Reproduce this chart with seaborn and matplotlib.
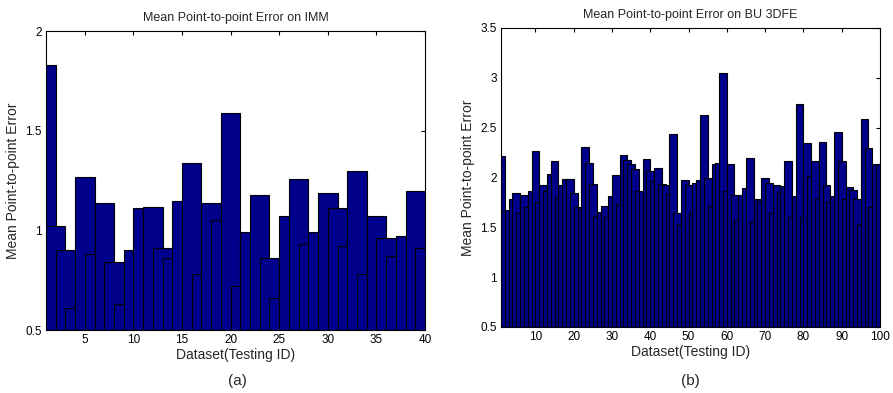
import numpy as np
import pandas as pd
import seaborn as sns
import matplotlib.pyplot as plt
from matplotlib.ticker import FuncFormatter

# Mean point-to-point error per testing ID
imm_ids = list(range(1, 41))
imm_err = [1.83, 1.02, 0.90, 0.61, 1.27, 0.88, 1.14, 0.84, 0.63, 0.90,
           1.11, 1.12, 0.91, 0.86, 1.15, 1.34, 0.78, 1.14, 1.05, 1.59,
           0.72, 0.99, 1.18, 0.86, 0.66, 1.07, 1.26, 0.93, 0.99, 1.19,
           1.11, 0.92, 1.30, 0.78, 1.07, 0.96, 0.87, 0.97, 1.20, 0.91]

bu_ids = list(range(1, 101))
bu_err = [2.22, 1.66, 1.67, 1.78, 1.84, 1.64, 1.82, 1.70, 1.86, 2.27,
          1.75, 1.92, 1.86, 2.03, 2.16, 1.80, 1.92, 1.98, 1.98, 1.84,
          1.70, 1.69, 2.31, 2.14, 1.93, 1.61, 1.65, 1.71, 1.60, 1.81,
          2.02, 1.73, 2.23, 2.17, 2.13, 2.08, 1.86, 1.86, 2.18, 2.06,
          1.96, 2.09, 1.93, 1.92, 1.83, 2.44, 1.64, 1.53, 1.97, 1.92,
          1.64, 1.94, 1.97, 2.63, 1.99, 1.71, 2.13, 2.14, 3.05, 1.86,
          2.13, 1.82, 1.57, 1.82, 1.89, 2.20, 1.55, 1.78, 1.76, 1.99,
          1.94, 1.64, 1.92, 1.85, 1.91, 2.16, 1.60, 1.81, 2.74, 1.60,
          2.35, 2.01, 2.16, 1.79, 2.36, 1.92, 1.75, 1.81, 2.46, 2.16,
          1.78, 1.90, 1.87, 1.78, 1.53, 2.59, 2.30, 1.70, 2.13, 2.13]

imm_ticks = [5, 10, 15, 20, 25, 30, 35, 40]
bu_ticks = [10, 20, 30, 40, 50, 60, 70, 80, 90, 100]
imm_yticks = [0.5, 1, 1.5, 2]
bu_yticks = [0.5, 1, 1.5, 2, 2.5, 3, 3.5]

sns.set_style("white")
plt.rcParams['font.family'] = ['Liberation Sans', 'DejaVu Sans']

bar_color = "#00008B"

fig = plt.figure(figsize=(8.93, 3.93), dpi=100)
ax1 = fig.add_axes([0.0515, 0.160, 0.4244, 0.761])
ax2 = fig.add_axes([0.561, 0.168, 0.4244, 0.761])

panels = [
    (ax1, imm_ids, imm_err, imm_ticks, imm_yticks, (1, 40), "Mean Point-to-point Error on IMM"),
    (ax2, bu_ids, bu_err, bu_ticks, bu_yticks, (1, 100), "Mean Point-to-point Error on BU 3DFE"),
]

for ax, ids, err, xt, yt, xl, title in panels:
    df = pd.DataFrame({"id": ids, "err": err})
    # matlab style wide bars that overlap their neighbours
    sns.barplot(data=df, x="id", y="err", native_scale=True, width=2,
                color=bar_color, saturation=1, edgecolor="black",
                linewidth=0.8, errorbar=None, ax=ax)
    ax.set_xlim(*xl)
    ax.set_ylim(yt[0], yt[-1])
    ax.set_xticks(xt)
    ax.set_yticks(yt)
    ax.yaxis.set_major_formatter(FuncFormatter(lambda v, p: "%g" % v))
    ax.tick_params(direction="in", length=3, width=0.8, labelsize=8.5,
                   top=True, right=True, colors="black", pad=3)
    for s in ax.spines.values():
        s.set_color("black")
        s.set_linewidth(0.8)
    ax.set_title(title, fontsize=9, pad=7)
    ax.set_xlabel("Dataset(Testing ID)", fontsize=10, labelpad=1)
    ax.set_ylabel("Mean Point-to-point Error", fontsize=10, labelpad=4)

fig.text(0.266, 0.03, "(a)", ha="center", va="center", fontsize=11)
fig.text(0.773, 0.03, "(b)", ha="center", va="center", fontsize=11)

plt.savefig("out.png", dpi=100)
